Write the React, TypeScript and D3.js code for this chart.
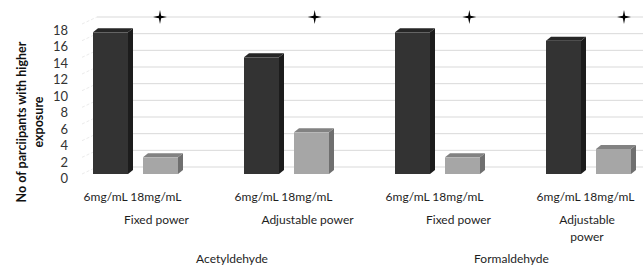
import * as d3 from 'd3';

// chart values
const compounds = ['Acetyldehyde', 'Formaldehyde'];
const powers = ['Fixed power', 'Adjustable power'];
const doses = ['6mg/mL', '18mg/mL'];
const values6mg = [17, 14, 17, 16];
const values18mg = [2, 5, 2, 3];
const significant = [true, true, true, true];
const yTitle = ['No of parciipants with higher', 'exposure'];

const W = 643;
const H = 266;
const FONT = 'Lato, "Open Sans", sans-serif';

// perspective offsets
const wallDx = 15, wallDy = -7; // front edge -> back wall
const barDx = 5, barDy = -4;    // bar depth

const groups = compounds.flatMap(c => powers.map(p => `${c}|${p}`));
const rows = groups.map((g, i) => ({ key: g, compound: g.split('|')[0], power: g.split('|')[1], vals: [values6mg[i], values18mg[i]] }));

const x0 = d3.scaleBand<string>().domain(groups).range([60, 664]);
const x1 = d3.scaleBand<string>().domain(doses).range([0, x0.bandwidth()]).paddingInner(0.3).paddingOuter(0.66);
const y = d3.scaleLinear().domain([0, 18]).range([174, 24]);
const yLab = d3.scaleLinear().domain([0, 18]).range([178, 30]);
const ticks = y.ticks(9);

const wallLeft = 82;
const labelShift = 24;

const barColors: Record<string, { front: string; side: string; top: string }> = {
  '6mg/mL': { front: '#333333', side: '#1c1c1c', top: '#262626' },
  '18mg/mL': { front: '#a6a6a6', side: '#6f6f6f', top: '#828282' },
};

function poly(pts: [number, number][]) {
  return d3.line()(pts)! + 'Z';
}

// four pointed star
const starPath = d3.lineRadial<number>()
  .angle((_, i) => (i * Math.PI) / 4)
  .radius((_, i) => (i % 2 === 0 ? 7 : 1.6))
  .curve(d3.curveLinearClosed)(d3.range(8))!;

function region(a: number, b: number) {
  const l = a + labelShift;
  const r = Math.min(b + labelShift, W);
  return { c: (l + r) / 2, w: r - l };
}

function wrap(text: string, width: number) {
  if (text.length * 6 <= width - 20) return [text];
  return text.split(' ');
}

export default function App() {
  const starX = d3.scalePoint<string>().domain(groups)
    .range([x0(groups[0])! + 100, x0(groups[groups.length - 1])! + 111]);

  return (
    <svg width={W} height={H} style={{ position: 'absolute', left: 0, top: 0, background: '#fff' }} fontFamily={FONT}>
      {/* back wall + side wall gridlines */}
      {ticks.map(t => (
        <g key={t}>
          <line x1={wallLeft} y1={y(t)} x2={wallLeft + wallDx} y2={y(t) + wallDy} stroke="#ebebeb" strokeDasharray="3,2" />
          <line x1={wallLeft + wallDx} y1={y(t) + wallDy} x2={W} y2={y(t) + wallDy} stroke="#d9d9d9" />
        </g>
      ))}

      {/* bars */}
      {rows.map(r => (
        <g key={r.key} transform={`translate(${x0(r.key)},0)`}>
          {doses.map((d, j) => {
            const bx = x1(d)!;
            const bw = x1.bandwidth();
            const top = y(r.vals[j]);
            const bot = y(0);
            const c = barColors[d];
            return (
              <g key={d}>
                <path d={poly([[bx + bw, top], [bx + bw + barDx, top + barDy], [bx + bw + barDx, bot + barDy], [bx + bw, bot]])} fill={c.side} />
                <path d={poly([[bx, top], [bx + barDx, top + barDy], [bx + bw + barDx, top + barDy], [bx + bw, top]])} fill={c.top} />
                <rect x={bx} y={top} width={bw} height={bot - top} fill={c.front} />
              </g>
            );
          })}
        </g>
      ))}

      {/* significance markers */}
      {rows.map((r, i) => significant[i] && (
        <path key={r.key} d={starPath} transform={`translate(${starX(r.key)},${y(18) + wallDy})`} fill="#000" />
      ))}

      {/* y tick labels */}
      {ticks.map(t => (
        <text key={t} x={68} y={yLab(t)} textAnchor="end" dominantBaseline="central" fontSize={13} fill="#333">{t}</text>
      ))}

      {/* y title */}
      <text transform={`translate(30,122) rotate(-90)`} textAnchor="middle" fontSize={12.5} fontWeight="bold" fill="#111">
        {yTitle.map((l, i) => (
          <tspan key={i} x={0} y={(i - 0.5) * 17} dominantBaseline="central">{l}</tspan>
        ))}
      </text>

      {/* category labels: doses */}
      {rows.map(r => (
        <text key={r.key} x={x0(r.key)! + x0.bandwidth() / 2 - 3} y={196} textAnchor="middle" dominantBaseline="central" fontSize={12} fill="#1e1e1e">
          {doses.join(' ')}
        </text>
      ))}

      {/* category labels: power */}
      {rows.map(r => {
        const reg = region(x0(r.key)!, x0(r.key)! + x0.bandwidth());
        const lines = wrap(r.power, reg.w);
        return (
          <text key={r.key} textAnchor="middle" fontSize={12} fill="#1e1e1e">
            {lines.map((l, i) => (
              <tspan key={i} x={reg.c - 3} y={219 + i * 17} dominantBaseline="central">{l}</tspan>
            ))}
          </text>
        );
      })}

      {/* category labels: compound */}
      {compounds.map(c => {
        const keys = groups.filter(g => g.startsWith(c + '|'));
        const reg = region(x0(keys[0])!, x0(keys[keys.length - 1])! + x0.bandwidth());
        return (
          <text key={c} x={reg.c - 3} y={258} textAnchor="middle" dominantBaseline="central" fontSize={12} fill="#1e1e1e">{c}</text>
        );
      })}
    </svg>
  );
}
